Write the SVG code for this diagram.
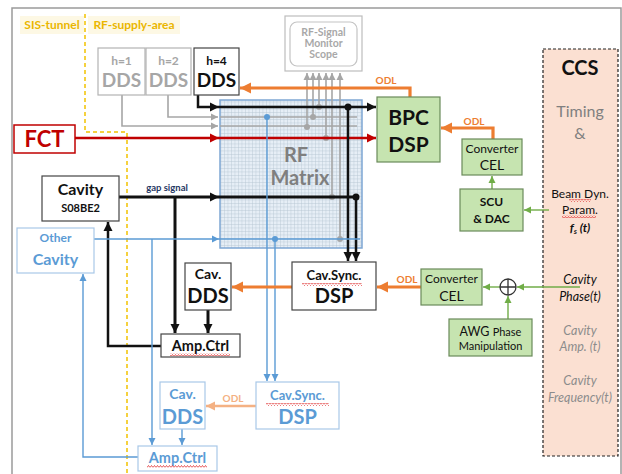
<svg xmlns="http://www.w3.org/2000/svg" width="622" height="474" viewBox="0 0 622 474">
<style>
text{font-family:Lato,"Open Sans","DejaVu Sans",sans-serif;text-anchor:middle}
.b{font-weight:bold}
.box{fill:#fff;stroke:#444;stroke-width:1.2}
.gbox{fill:#fff;stroke:#b3b3b3;stroke-width:1.2}
.bbox{fill:#fff;stroke:#a9c8e8;stroke-width:1.2}
.grn{fill:#c6e4b0;stroke:#6a8a5a;stroke-width:1.2}
.tk{fill:#111}
.tg{fill:#a6a6a6}
.tb{fill:#5b9bd5}
.to{fill:#ed7d31}
.k{stroke:#111;fill:none}
.gy{stroke:#a6a6a6;fill:none;stroke-width:1.6}
.bl{stroke:#5b9bd5;fill:none;stroke-width:1.4}
.or{stroke:#ed7d31;fill:none;stroke-width:3.2}
.gn{stroke:#70ad47;fill:none;stroke-width:1.4}
.sq{fill:url(#squig)}
</style>
<defs>
<pattern id="grid" width="3.5" height="3.5" patternUnits="userSpaceOnUse">
<rect width="3.5" height="3.5" fill="#e6eef6"/>
<path d="M0,0.25 H3.5 M0.25,0 V3.5" stroke="#b4c3d2" stroke-width="0.5"/>
</pattern>
<pattern id="squig" width="3" height="3" patternUnits="userSpaceOnUse">
<path d="M0,2.5 L1.5,0.5 L3,2.5" stroke="#e03030" stroke-width="0.8" fill="none"/>
</pattern>
<marker id="aK" markerUnits="userSpaceOnUse" markerWidth="10" markerHeight="10" refX="9" refY="5" orient="auto"><path d="M0,0.5 L9,5 L0,9.5 z" fill="#111"/></marker>
<marker id="aG" markerUnits="userSpaceOnUse" markerWidth="8" markerHeight="8" refX="7" refY="4" orient="auto"><path d="M0,0.5 L7,4 L0,7.5 z" fill="#a6a6a6"/></marker>
<marker id="aR" markerUnits="userSpaceOnUse" markerWidth="10" markerHeight="10" refX="9" refY="5" orient="auto"><path d="M0,0.5 L9,5 L0,9.5 z" fill="#c00000"/></marker>
<marker id="aB" markerUnits="userSpaceOnUse" markerWidth="8" markerHeight="8" refX="7" refY="4" orient="auto"><path d="M0,0.5 L7,4 L0,7.5 z" fill="#5b9bd5"/></marker>
<marker id="aO" markerUnits="userSpaceOnUse" markerWidth="12" markerHeight="12" refX="11" refY="6" orient="auto"><path d="M0,0.5 L11,6 L0,11.5 z" fill="#ed7d31"/></marker>
<marker id="aLO" markerUnits="userSpaceOnUse" markerWidth="10" markerHeight="10" refX="9" refY="5" orient="auto"><path d="M0,0.5 L9,5 L0,9.5 z" fill="#f4b183"/></marker>
<marker id="aN" markerUnits="userSpaceOnUse" markerWidth="8" markerHeight="8" refX="7" refY="4" orient="auto"><path d="M0,0.5 L7,4 L0,7.5 z" fill="#70ad47"/></marker>
</defs>

<rect width="622" height="474" fill="#fff"/>
<path d="M12,480 V8 H621 V480" fill="none" stroke="#9a9a9a" stroke-width="1.5"/>

<g id="area-labels">
<rect x="20" y="16" width="64" height="18" fill="#fdf8e4"/>
<rect x="88" y="16" width="92" height="18" fill="#fdf8e4"/>
<text x="52" y="29" class="b" font-size="12" fill="#eab600">SIS-tunnel</text>
<text x="134" y="29" class="b" font-size="12" fill="#eab600">RF-supply-area</text>
<path d="M85,14 V132 H127 V474" fill="none" stroke="#f2c200" stroke-width="1.5" stroke-dasharray="4,3"/>
</g>

<g id="ccs">
<rect x="543" y="49" width="75" height="407" fill="#fbe0d2" stroke="#222" stroke-width="1.2" stroke-dasharray="3,2"/>
<text x="580" y="75" class="b tk" font-size="20">CCS</text>
<text x="580" y="117" font-size="16" fill="#7f7f7f">Timing</text>
<text x="580" y="139" font-size="16" fill="#7f7f7f">&amp;</text>
<text x="580" y="198" font-size="12" class="tk">Beam Dyn.</text>
<text x="580" y="214" font-size="12" class="tk">Param.</text>
<text x="580" y="232" font-size="12" class="tk" font-weight="bold" font-style="italic">f<tspan font-size="8" dy="2">s</tspan><tspan dy="-2"> (t)</tspan></text>
<text x="580" y="284" font-size="12.5" class="tk" font-style="italic">Cavity</text>
<text x="580" y="301" font-size="12.5" class="tk" font-style="italic">Phase(t)</text>
<text x="580" y="335" font-size="12.5" fill="#8c8c8c" font-style="italic">Cavity</text>
<text x="580" y="351" font-size="12.5" fill="#8c8c8c" font-style="italic">Amp. (t)</text>
<text x="580" y="385" font-size="12.5" fill="#8c8c8c" font-style="italic">Cavity</text>
<text x="580" y="402" font-size="12.5" fill="#8c8c8c" font-style="italic">Frequency(t)</text>
<rect x="569" y="199" width="22" height="3" class="sq"/>
<rect x="562" y="215" width="34" height="3" class="sq"/>
</g>

<g id="rf-matrix">
<rect x="220" y="100" width="142" height="148" fill="url(#grid)" stroke="#7ea6d3" stroke-width="1.5"/>
<text x="296" y="162" class="b" font-size="20" fill="#7f7f7f">RF</text>
<text x="300" y="185" class="b" font-size="20" fill="#7f7f7f">Matrix</text>
</g>

<g id="connectors">
<path d="M168,95 V117 H218" class="gy" marker-end="url(#aG)"/>
<path d="M122,95 V126 H218" class="gy" marker-end="url(#aG)"/>
<path d="M220,117 H357 M220,126 H357" class="gy"/>
<path d="M307,127 V73" class="gy" marker-end="url(#aG)"/>
<path d="M313,118 V73" class="gy" marker-end="url(#aG)"/>
<path d="M319,108 V73" class="gy" marker-end="url(#aG)"/>
<path d="M326,139 V73" class="gy" marker-end="url(#aG)"/>
<path d="M332,197 V73" class="gy" marker-end="url(#aG)"/>
<path d="M340,239 V73" class="gy" marker-end="url(#aG)"/>
<g fill="#a6a6a6">
<circle cx="307" cy="127" r="3"/><circle cx="313" cy="117" r="3"/><circle cx="319" cy="107" r="3"/>
<circle cx="326" cy="138" r="3"/><circle cx="332" cy="197" r="3"/><circle cx="340" cy="239" r="3"/>
</g>
<path d="M198,95 V107 H219" class="k" stroke-width="2.5" marker-end="url(#aK)"/>
<path d="M219,107 H376" class="k" stroke-width="2.5" marker-end="url(#aK)"/>
<path d="M75,138 H219" stroke="#c00000" stroke-width="2.5" fill="none" marker-end="url(#aR)"/>
<path d="M219,138 H376" stroke="#c00000" stroke-width="2.5" fill="none" marker-end="url(#aR)"/>
<path d="M119,197 H219" class="k" stroke-width="3" marker-end="url(#aK)"/>
<path d="M219,197 H356" class="k" stroke-width="3"/>
<path d="M348,107 V261" class="k" stroke-width="2.5" marker-end="url(#aK)"/>
<path d="M356,197 V261" class="k" stroke-width="2.5" marker-end="url(#aK)"/>
<circle cx="348" cy="107" r="3.5" fill="#111"/>
<circle cx="356" cy="197" r="3.5" fill="#111"/>
<text x="167" y="191" class="b" font-size="9.5" fill="#1f3864">gap signal</text>
<path d="M175,197 V333" class="k" stroke-width="3" marker-end="url(#aK)"/>
<path d="M208,310 V333" class="k" stroke-width="3" marker-end="url(#aK)"/>
<path d="M161,346 H108 V222" class="k" stroke-width="2.5" marker-end="url(#aK)"/>
<path d="M94,239 H219" class="bl" marker-end="url(#aB)"/>
<path d="M219,239 H360" class="bl"/>
<path d="M267,117 V381" class="bl" marker-end="url(#aB)"/>
<path d="M275,239 V381" class="bl" marker-end="url(#aB)"/>
<circle cx="267" cy="117" r="3" fill="#5b9bd5"/>
<circle cx="275" cy="239" r="3" fill="#5b9bd5"/>
<path d="M152,239 V445" class="bl" marker-end="url(#aB)"/>
<path d="M182,429 V445" class="bl" marker-end="url(#aB)"/>
<path d="M138,457 H83 V274" class="bl" marker-end="url(#aB)"/>
<path d="M410,97 V88 H240" class="or" marker-end="url(#aO)"/>
<text x="386" y="84" class="b to" font-size="10">ODL</text>
<path d="M493,139 V128 H441" class="or" marker-end="url(#aO)"/>
<text x="474" y="125" class="b to" font-size="10">ODL</text>
<path d="M421,287 H377" class="or" marker-end="url(#aO)"/>
<text x="407" y="283" class="b to" font-size="10">ODL</text>
<path d="M292,287 H232" class="or" marker-end="url(#aO)"/>
<path d="M256,406 H206" stroke="#f4b183" stroke-width="2.5" fill="none" marker-end="url(#aLO)"/>
<text x="233" y="402" class="b" font-size="10" fill="#f4b183">ODL</text>
<path d="M492,189 V176" class="gn" marker-end="url(#aN)"/>
<path d="M549,210 H524" class="gn" marker-end="url(#aN)"/>
<path d="M580,287 H517" class="gn" marker-end="url(#aN)"/>
<path d="M500,287 H483" class="gn" marker-end="url(#aN)"/>
<path d="M508,319 V296" class="gn" marker-end="url(#aN)"/>
</g>

<g id="sum">
<circle cx="508" cy="287" r="8" fill="#fff" stroke="#333" stroke-width="1.3"/>
<path d="M500,287 H516 M508,279 V295" stroke="#333" stroke-width="1.3"/>
</g>

<g id="dds-h1">
<rect x="98" y="48" width="47" height="47" class="gbox"/>
<text x="121.5" y="65" class="b tg" font-size="12">h=1</text>
<text x="121.5" y="87" class="b tg" font-size="19">DDS</text>
</g>
<g id="dds-h2">
<rect x="146" y="48" width="45" height="47" class="gbox"/>
<text x="168.5" y="65" class="b tg" font-size="12">h=2</text>
<text x="168.5" y="87" class="b tg" font-size="19">DDS</text>
</g>
<g id="dds-h4">
<rect x="194" y="48" width="45" height="47" class="box"/>
<text x="216.5" y="65" class="b tk" font-size="12">h=4</text>
<text x="216.5" y="87" class="b tk" font-size="19">DDS</text>
</g>

<g id="scope">
<rect x="285" y="16" width="77" height="55" fill="#fff" stroke="#bdbdbd" stroke-width="1.2"/>
<rect x="290" y="22" width="67" height="44" rx="7" fill="#fff" stroke="#c4c4c4" stroke-width="1.2"/>
<text x="323.5" y="36" class="b" font-size="10.5" fill="#a8a8a8">RF-Signal</text>
<text x="323.5" y="47" class="b" font-size="10.5" fill="#a8a8a8">Monitor</text>
<text x="323.5" y="58" class="b" font-size="10.5" fill="#a8a8a8">Scope</text>
</g>

<g id="fct">
<rect x="14" y="125" width="61" height="28" fill="#fff" stroke="#c00000" stroke-width="1.5"/>
<text x="44.5" y="147" class="b" font-size="22" fill="#c00000">FCT</text>
</g>

<g id="bpc-dsp">
<rect x="377" y="97" width="63" height="65" class="grn"/>
<text x="408.5" y="125" class="b tk" font-size="21">BPC</text>
<text x="408.5" y="152" class="b tk" font-size="21">DSP</text>
</g>

<g id="converter-cel-1">
<rect x="462" y="139" width="60" height="36" class="grn"/>
<text x="492" y="153" class="tk" font-size="12">Converter</text>
<text x="492" y="170" class="tk" font-size="14">CEL</text>
</g>

<g id="scu-dac">
<rect x="460" y="189" width="63" height="42" class="grn"/>
<text x="491.5" y="206" class="b tk" font-size="12">SCU</text>
<text x="491.5" y="223" class="b tk" font-size="12">&amp; DAC</text>
</g>

<g id="converter-cel-2">
<rect x="421" y="269" width="61" height="36" class="grn"/>
<text x="451.5" y="283" class="tk" font-size="12">Converter</text>
<text x="451.5" y="301" class="tk" font-size="14">CEL</text>
</g>

<g id="awg">
<rect x="449" y="319" width="83" height="37" class="grn"/>
<text x="490.5" y="336" class="tk" font-size="12.5">AWG <tspan font-size="11">Phase</tspan></text>
<text x="490.5" y="350" class="tk" font-size="11">Manipulation</text>
</g>

<g id="cav-sync-dsp">
<rect x="292" y="262" width="84" height="48" class="box"/>
<text x="334" y="280" class="b tk" font-size="13">Cav.Sync.</text>
<text x="334" y="303" class="b tk" font-size="20">DSP</text>
<rect x="302" y="283" width="60" height="3" class="sq"/>
</g>

<g id="cav-dds">
<rect x="185" y="263" width="46" height="47" class="box"/>
<text x="208" y="279" class="b tk" font-size="14">Cav.</text>
<text x="208" y="303" class="b tk" font-size="20">DDS</text>
</g>

<g id="amp-ctrl">
<rect x="161" y="334" width="79" height="23" class="box"/>
<text x="200.5" y="351" class="b tk" font-size="14.5">Amp.Ctrl</text>
<rect x="170" y="353" width="60" height="3" class="sq"/>
</g>

<g id="cavity-s08be2">
<rect x="42" y="176" width="77" height="45" class="box"/>
<text x="80.5" y="195" class="b tk" font-size="16">Cavity</text>
<text x="80.5" y="212" class="b tk" font-size="11">S08BE2</text>
</g>

<g id="other-cavity">
<rect x="17" y="228" width="77" height="45" class="bbox"/>
<text x="55.5" y="242" class="b tb" font-size="12">Other</text>
<text x="55.5" y="265" class="b tb" font-size="16">Cavity</text>
</g>

<g id="cav-dds-2">
<rect x="160" y="382" width="45" height="47" class="bbox"/>
<text x="182.5" y="399" class="b tb" font-size="14">Cav.</text>
<text x="182.5" y="424" class="b tb" font-size="20">DDS</text>
</g>

<g id="cav-sync-dsp-2">
<rect x="256" y="382" width="83" height="47" class="bbox"/>
<text x="297.5" y="400" class="b tb" font-size="13">Cav.Sync.</text>
<text x="297.5" y="424" class="b tb" font-size="20">DSP</text>
<rect x="266" y="403" width="63" height="3" class="sq"/>
</g>

<g id="amp-ctrl-2">
<rect x="138" y="446" width="79" height="25" class="bbox"/>
<text x="177.5" y="463" class="b tb" font-size="14.5">Amp.Ctrl</text>
<rect x="147" y="465" width="60" height="3" class="sq"/>
</g>
</svg>
